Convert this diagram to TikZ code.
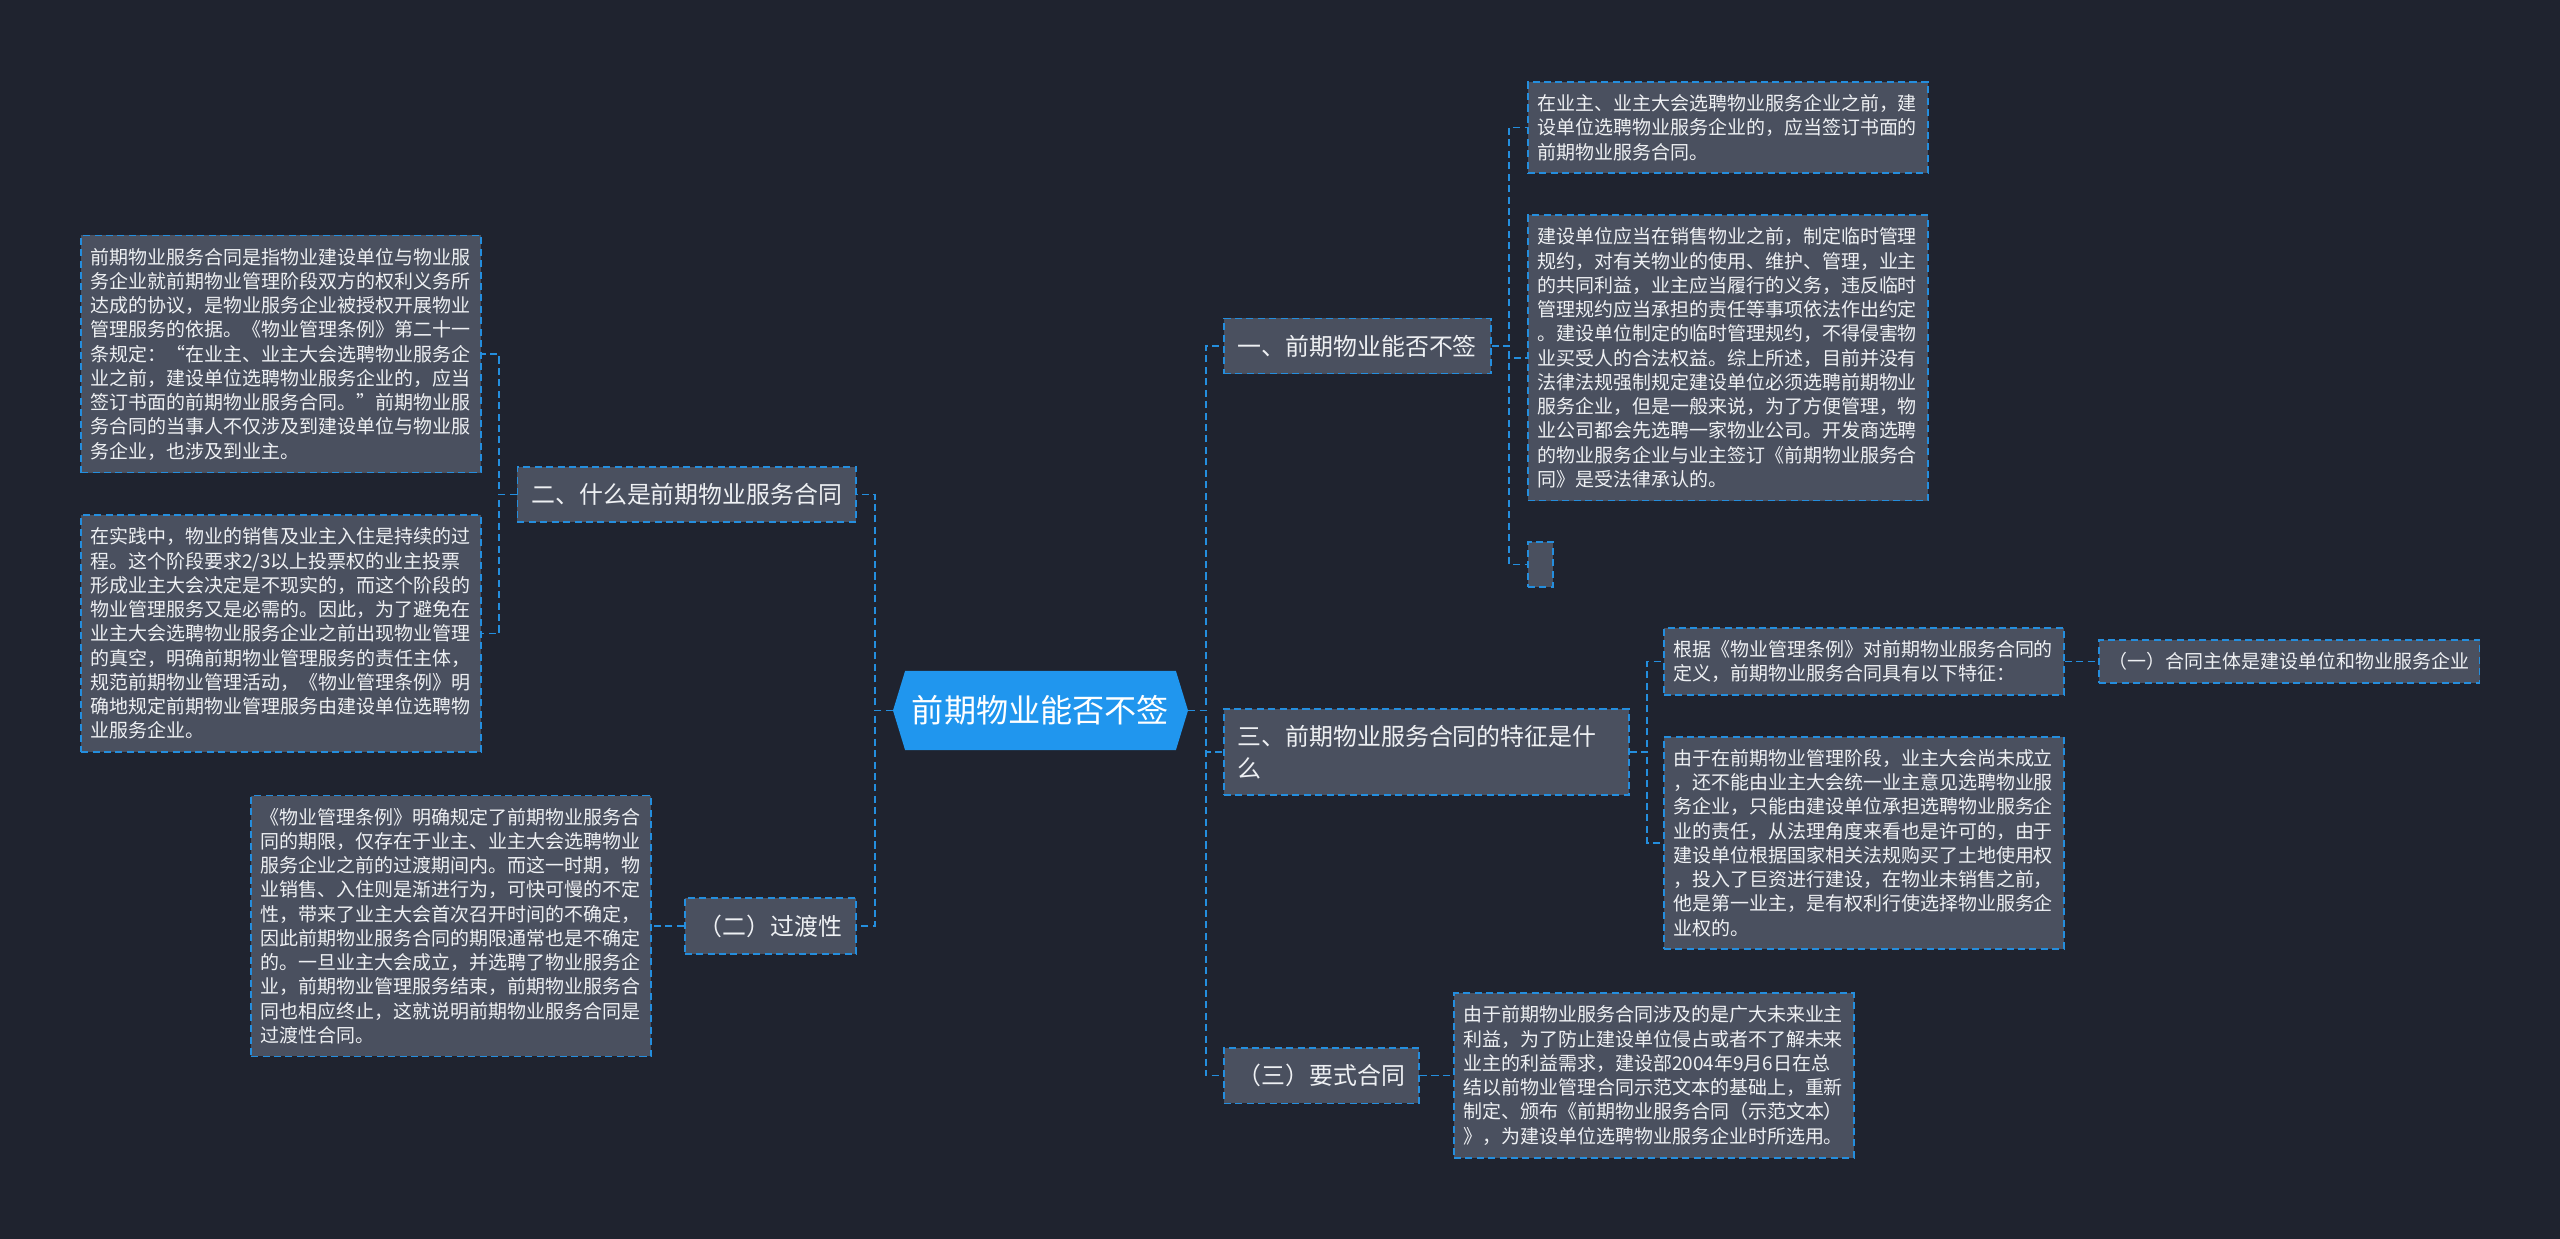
\documentclass[tikz,border=0pt]{standalone}
\usepackage{fontspec}
\newfontfamily\cjk{Noto Sans CJK SC}
\usepackage{tikz}
\usetikzlibrary{shapes, positioning, calc}
\definecolor{BgNavy}{RGB}{31,35,47}
\definecolor{CardGray}{RGB}{74,80,95}
\definecolor{LinkBlue}{RGB}{36,142,222}
\definecolor{HubBlue}{RGB}{32,150,238}
\definecolor{PaleText}{RGB}{238,240,243}

\begin{document}
\begin{tikzpicture}[font=\cjk,
	link/.style={LinkBlue, line width=1pt, dash pattern=on 4pt off 2.5pt},
	card/.style={draw=LinkBlue, line width=1pt, dash pattern=on 4pt off 2.5pt, fill=CardGray, text=PaleText},
	topic/.style={card, font=\cjk\fontsize{13.6}{18.1}\selectfont, inner xsep=0.28cm, inner ysep=0.33cm},
	leaf/.style={card, font=\cjk\fontsize{10.8}{13.8}\selectfont, align=left, text width=7.62cm, inner xsep=0.19cm, inner ysep=0.25cm},
	hub/.style={signal, signal to=east and west, signal pointer angle=146, fill=HubBlue, text=white,
		font=\cjk\fontsize{18.3}{22}\selectfont, minimum width=5.9cm, minimum height=1.58cm, inner sep=0pt}]
	\fill[BgNavy] (0,0) rectangle (51.2,-24.78);
	\useasboundingbox (0,0) rectangle (51.2,-24.78);

	\node[hub] (root) at (20.81,-14.21) {前期物业能否不签};

	% left side
	\node[topic, anchor=east] (b2) at (17.14,-9.89) {二、什么是前期物业服务合同};
	\node[topic, anchor=east] (bt) at (17.14,-18.52) {（二）过渡性};
	\node[leaf, anchor=east] (l1a) at (9.64,-7.08) {前期物业服务合同是指物业建设单位与物业服\\务企业就前期物业管理阶段双方的权利义务所\\达成的协议，是物业服务企业被授权开展物业\\管理服务的依据。《物业管理条例》第二十一\\条规定：“在业主、业主大会选聘物业服务企\\业之前，建设单位选聘物业服务企业的，应当\\签订书面的前期物业服务合同。”前期物业服\\务合同的当事人不仅涉及到建设单位与物业服\\务企业，也涉及到业主。};
	\node[leaf, anchor=east] (l1b) at (9.64,-12.67) {在实践中，物业的销售及业主入住是持续的过\\程。这个阶段要求2/3以上投票权的业主投票\\形成业主大会决定是不现实的，而这个阶段的\\物业管理服务又是必需的。因此，为了避免在\\业主大会选聘物业服务企业之前出现物业管理\\的真空，明确前期物业管理服务的责任主体，\\规范前期物业管理活动，《物业管理条例》明\\确地规定前期物业管理服务由建设单位选聘物\\业服务企业。};
	\node[leaf, anchor=east] (l2a) at (13.04,-18.52) {《物业管理条例》明确规定了前期物业服务合\\同的期限，仅存在于业主、业主大会选聘物业\\服务企业之前的过渡期间内。而这一时期，物\\业销售、入住则是渐进行为，可快可慢的不定\\性，带来了业主大会首次召开时间的不确定，\\因此前期物业服务合同的期限通常也是不确定\\的。一旦业主大会成立，并选聘了物业服务企\\业，前期物业管理服务结束，前期物业服务合\\同也相应终止，这就说明前期物业服务合同是\\过渡性合同。};

	% right side
	\node[topic, anchor=west] (b1) at (24.46,-6.92) {一、前期物业能否不签};
	\node[topic, anchor=west, text width=7.54cm, align=left] (b3) at (24.46,-15.04) {三、前期物业服务合同的特征是什\\么};
	\node[topic, anchor=west] (b4) at (24.46,-21.51) {（三）要式合同};
	\node[leaf, anchor=west] (r1a) at (30.54,-2.55) {在业主、业主大会选聘物业服务企业之前，建\\设单位选聘物业服务企业的，应当签订书面的\\前期物业服务合同。};
	\node[leaf, anchor=west] (r1b) at (30.54,-7.16) {建设单位应当在销售物业之前，制定临时管理\\规约，对有关物业的使用、维护、管理，业主\\的共同利益，业主应当履行的义务，违反临时\\管理规约应当承担的责任等事项依法作出约定\\。建设单位制定的临时管理规约，不得侵害物\\业买受人的合法权益。综上所述，目前并没有\\法律法规强制规定建设单位必须选聘前期物业\\服务企业，但是一般来说，为了方便管理，物\\业公司都会先选聘一家物业公司。开发商选聘\\的物业服务企业与业主签订《前期物业服务合\\同》是受法律承认的。};
	\node[card, anchor=west, minimum width=0.5cm, minimum height=0.9cm] (r1c) at (30.54,-11.29) {};
	\node[leaf, anchor=west] (r2a) at (33.26,-13.23) {根据《物业管理条例》对前期物业服务合同的\\定义，前期物业服务合同具有以下特征：};
	\node[card, anchor=west, font=\cjk\fontsize{10.8}{13.8}\selectfont, inner xsep=0.2cm, inner ysep=0.25cm] (r2a1) at (41.96,-13.23) {（一）合同主体是建设单位和物业服务企业};
	\node[leaf, anchor=west] (r2b) at (33.26,-16.86) {由于在前期物业管理阶段，业主大会尚未成立\\，还不能由业主大会统一业主意见选聘物业服\\务企业，只能由建设单位承担选聘物业服务企\\业的责任，从法理角度来看也是许可的，由于\\建设单位根据国家相关法规购买了土地使用权\\，投入了巨资进行建设，在物业未销售之前，\\他是第一业主，是有权利行使选择物业服务企\\业权的。};
	\node[leaf, anchor=west] (r3a) at (29.06,-21.51) {由于前期物业服务合同涉及的是广大未来业主\\利益，为了防止建设单位侵占或者不了解未来\\业主的利益需求，建设部2004年9月6日在总\\结以前物业管理合同示范文本的基础上，重新\\制定、颁布《前期物业服务合同（示范文本）\\》，为建设单位选聘物业服务企业时所选用。};

	\foreach \b in {b1,b3,b4} \draw[link] (root.east) -- ++(0.35,0) |- (\b.west);
	\foreach \b in {b2,bt} \draw[link] (root.west) -- ++(-0.35,0) |- (\b.east);
	\foreach \l in {l1a,l1b} \draw[link] (b2.west) -- ++(-0.35,0) |- (\l.east);
	\foreach \l in {r1a,r1b,r1c} \draw[link] (b1.east) -- ++(0.35,0) |- (\l.west);
	\foreach \l in {r2a,r2b} \draw[link] (b3.east) -- ++(0.35,0) |- (\l.west);
	\draw[link] (bt.west) -- (l2a.east);
	\draw[link] (r2a.east) -- (r2a1.west);
	\draw[link] (b4.east) -- (r3a.west);
\end{tikzpicture}
\end{document}
